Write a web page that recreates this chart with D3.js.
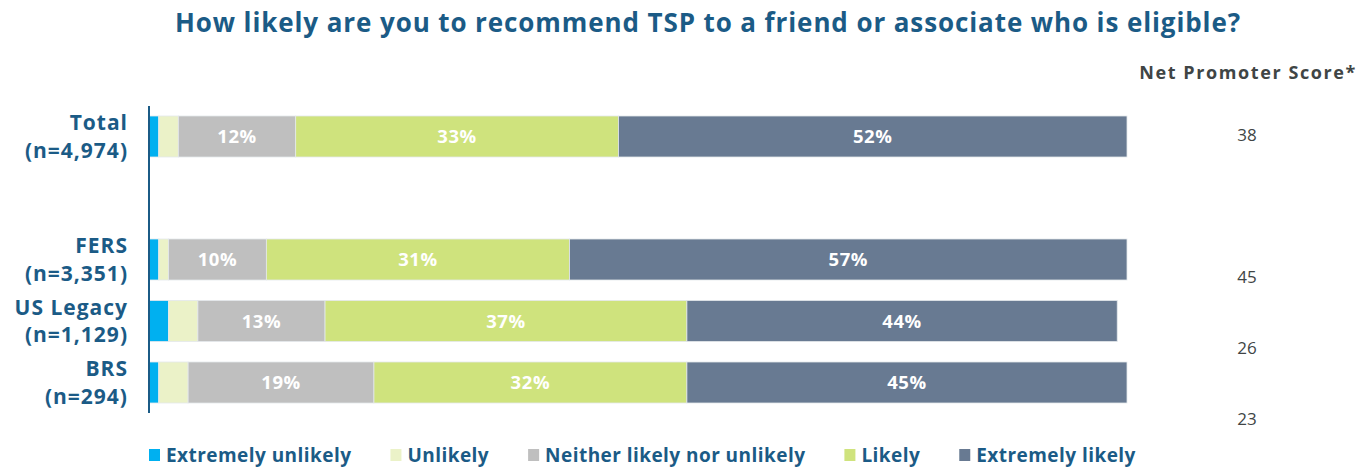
<!DOCTYPE html>
<meta charset="utf-8">
<script src="https://d3js.org/d3.v7.min.js"></script>
<style>
  body { margin: 0; background: #fff; }
  text { font-family: "Open Sans", Lato, sans-serif; }
</style>
<div id="chart"></div>
<script>

// groups, shown top to bottom (a blank slot sits between Total and the plans)
var categories = ["Total", "FERS", "US Legacy", "BRS"];
var sampleSizes = ["(n=4,974)", "(n=3,351)", "(n=1,129)", "(n=294)"];
var slots = ["Total", "_gap", "FERS", "US Legacy", "BRS"];

// answer scale, left to right
var responses = ["Extremely unlikely", "Unlikely", "Neither likely nor unlikely", "Likely", "Extremely likely"];
var colors = ["#00b0f0", "#ebf2c8", "#bfbfbf", "#cfe37d", "#687a92"];

// percentages per answer, one value per group
var extremelyUnlikely = [1, 1, 2, 1];
var unlikely = [2, 1, 3, 3];
var neither = [12, 10, 13, 19];
var likely = [33, 31, 37, 32];
var extremelyLikely = [52, 57, 44, 45];

// net promoter score per group
var nps = [38, 45, 26, 23];

var series = [extremelyUnlikely, unlikely, neither, likely, extremelyLikely];

// table for d3.stack
var rows = categories.map(function(c, i) {
  var r = {group: c};
  responses.forEach(function(k, j) { r[k] = series[j][i]; });
  return r;
});

var width = 1370, height = 469;
var titleColor = "#1b5b86";

var svg = d3.select("#chart")
  .append("svg")
    .attr("width", width)
    .attr("height", height);

// scales
var x = d3.scaleLinear()
  .domain([0, 100])
  .range([149, 1127]);

var y = d3.scaleBand()
  .domain(slots)
  .range([116, 403])
  .paddingInner(1 / 3)
  .paddingOuter(0);

// the score column does not line up with the bars in the original
var yScore = d3.scalePoint()
  .domain(slots)
  .range([135, 419]);

var stacked = d3.stack().keys(responses)(rows);

// title
svg.append("text")
  .attr("x", 708)
  .attr("y", 32)
  .attr("text-anchor", "middle")
  .style("font-size", "26px")
  .style("font-weight", "bold")
  .style("letter-spacing", "0.9px")
  .style("fill", titleColor)
  .text("How likely are you to recommend TSP to a friend or associate who is eligible?");

// bars
var layer = svg.append("g")
  .selectAll("g")
  .data(stacked)
  .enter().append("g")
    .attr("fill", function(d, i) { return colors[i]; });

layer.selectAll("rect")
  .data(function(d) { return d; })
  .enter().append("rect")
    .attr("x", function(d) { return x(d[0]); })
    .attr("y", function(d) { return y(d.data.group); })
    .attr("width", function(d) { return x(d[1]) - x(d[0]); })
    .attr("height", y.bandwidth())
    .attr("stroke", "#e4e8ec")
    .attr("stroke-width", 0.8);

// value labels (small shares left unlabelled)
layer.selectAll("text")
  .data(function(d) { return d.filter(function(p) { return p[1] - p[0] >= 10; }); })
  .enter().append("text")
    .attr("x", function(d) { return (x(d[0]) + x(d[1])) / 2; })
    .attr("y", function(d) { return y(d.data.group) + y.bandwidth() / 2; })
    .attr("dy", "0.36em")
    .attr("text-anchor", "middle")
    .style("font-size", "18.5px")
    .style("font-weight", "bold")
    .style("letter-spacing", "0.6px")
    .style("fill", "#fff")
    .text(function(d) { return (d[1] - d[0]) + "%"; });

// left axis line
svg.append("line")
  .attr("x1", x(0)).attr("x2", x(0))
  .attr("y1", y.range()[0] - 10)
  .attr("y2", y.range()[1] + 10)
  .attr("stroke", titleColor)
  .attr("stroke-width", 2);

// group labels
var labels = svg.append("g")
  .selectAll("text")
  .data(categories)
  .enter().append("text")
    .attr("x", 128)
    .attr("y", function(d) { return y(d) + y.bandwidth() / 2; })
    .attr("text-anchor", "end")
    .style("font-size", "21px")
    .style("font-weight", "bold")
    .style("letter-spacing", "1px")
    .style("fill", titleColor);

labels.append("tspan")
  .attr("x", 128)
  .attr("dy", "-0.3em")
  .text(function(d) { return d; });

labels.append("tspan")
  .attr("x", 128)
  .attr("dy", "1.3em")
  .text(function(d, i) { return sampleSizes[i]; });

// net promoter score column
svg.append("text")
  .attr("x", 1357)
  .attr("y", 79)
  .attr("text-anchor", "end")
  .style("font-size", "18px")
  .style("font-weight", "bold")
  .style("letter-spacing", "1.6px")
  .style("fill", "#404545")
  .text("Net Promoter Score*");

svg.append("g")
  .selectAll("text")
  .data(nps)
  .enter().append("text")
    .attr("x", 1247)
    .attr("y", function(d, i) { return yScore(categories[i]); })
    .attr("dy", "0.36em")
    .attr("text-anchor", "middle")
    .style("font-size", "17px")
    .style("fill", "#404545")
    .text(function(d) { return d; });

// legend
var legend = svg.append("g").attr("transform", "translate(149,449)");
var lx = 0;
responses.forEach(function(r, i) {
  var item = legend.append("g").attr("transform", "translate(" + lx + ",0)");
  item.append("rect")
    .attr("width", 11)
    .attr("height", 12)
    .attr("fill", colors[i]);
  var t = item.append("text")
    .attr("x", 17)
    .attr("y", 13)
    .style("font-size", "19px")
    .style("font-weight", "bold")
    .style("letter-spacing", "0.45px")
    .style("fill", titleColor)
    .text(r);
  lx += 17 + t.node().getComputedTextLength() + 39;
});

</script>
